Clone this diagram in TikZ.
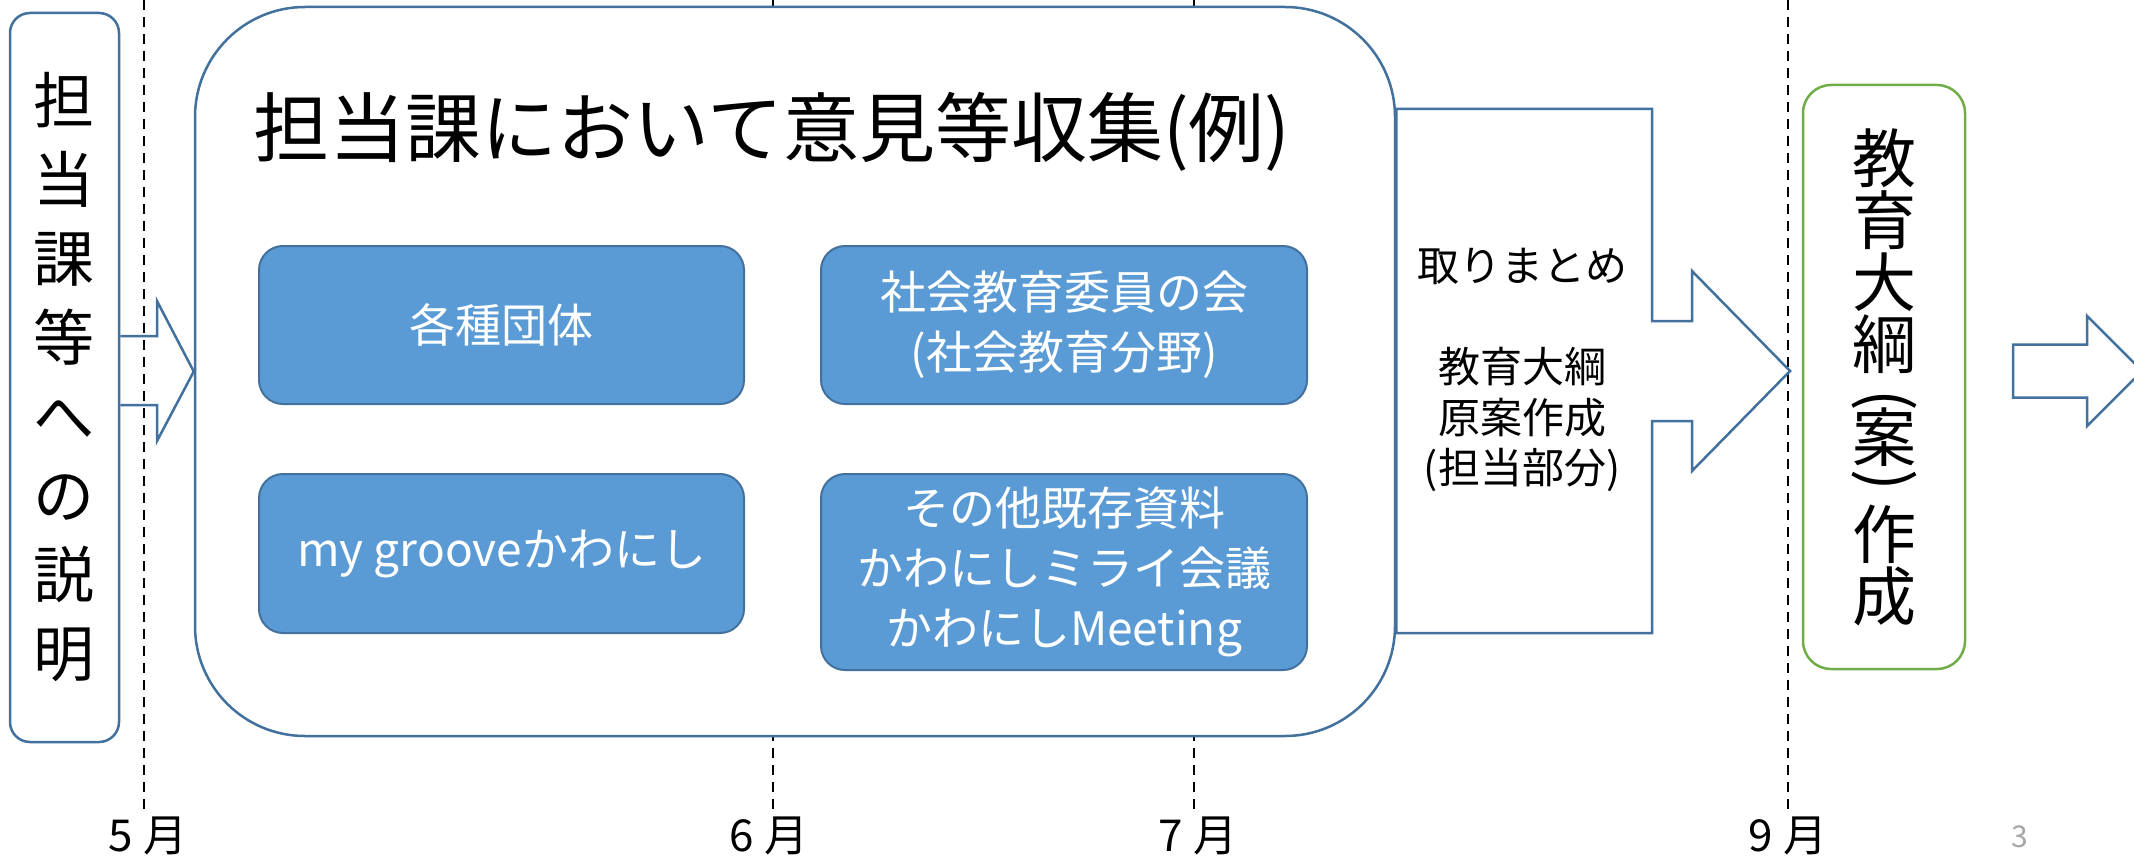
\documentclass[tikz,border=0pt]{standalone}
\usepackage{fontspec}
\setmainfont{Noto Sans CJK JP}
\usetikzlibrary{calc}
\definecolor{bord}{HTML}{41719C}
\definecolor{bfill}{HTML}{5B9BD5}
\definecolor{gbord}{HTML}{70AD47}
\newcommand{\vparen}[1]{\rotatebox[origin=c]{-90}{#1}}
\tikzset{
  monthline/.style={draw=black, line width=2.5pt, dash pattern=on 10pt off 7pt},
  introbox/.style={draw=bord, fill=white, line width=2.5pt, rounded corners=20pt, align=center, inner sep=0pt, font=\fontsize{61}{79}\selectfont},
  mainbox/.style={draw=bord, fill=white, line width=2.5pt, rounded corners=110pt, inner sep=0pt},
  bluebox/.style={draw=bord, fill=bfill, line width=2pt, rounded corners=24pt, align=center, inner sep=0pt, text=white, font=\fontsize{46}{60}\selectfont},
  greenbox/.style={draw=gbord, fill=white, line width=2.5pt, rounded corners=28pt, align=center, inner sep=0pt, font=\fontsize{64}{62}\selectfont},
  blockarrow/.style={draw=bord, line width=2.5pt, line join=miter},
  arrowtext/.style={align=center, inner sep=0pt, font=\fontsize{42}{50.5}\selectfont},
  monthlabel/.style={inner sep=0pt, font=\fontsize{44}{44}\selectfont},
}
\begin{document}
\begin{tikzpicture}[x=1pt, y=-1pt]
\useasboundingbox (0,0) rectangle (2134,864);
\fill[white] (0,0) rectangle (2134,864);
% month guide lines
\foreach \xx in {144,773,1194,1788} \draw[monthline] (\xx,0) -- (\xx,810);
\node[monthlabel] (m5) at (148,836) {5 月};
\node[monthlabel] (m6) at (769,836) {6 月};
\node[monthlabel] (m7) at (1198,836) {7 月};
\node[monthlabel] (m9) at (1788,836) {9 月};
\node[inner sep=0pt, font=\fontsize{30}{30}\selectfont, text=black!35] (pg) at (2020,837) {3};
% boxes
\node[introbox, minimum width=109pt, minimum height=729pt] (intro) at (64.5,377.5) {担\\当\\課\\等\\へ\\の\\説\\明};
\node[mainbox, minimum width=1200pt, minimum height=729pt] (main) at (795,371.5) {};
\node[inner sep=0pt, font=\fontsize{76}{76}\selectfont] (title) at (772,132) {担当課において意見等収集(例)};
\node[bluebox, minimum width=485pt, minimum height=158pt] (b1) at (501.5,325) {各種団体};
\node[bluebox, minimum width=485pt, minimum height=159pt] (b2) at (501.5,553.5) {my grooveかわにし};
\node[bluebox, minimum width=486pt, minimum height=158pt] (b3) at (1064,325) {社会教育委員の会\\(社会教育分野)};
\node[bluebox, minimum width=486pt, minimum height=196pt] (b4) at (1064,572) {その他既存資料\\かわにしミライ会議\\かわにしMeeting};
\node[greenbox, minimum width=162pt, minimum height=584pt] (draft) at (1884,377) {教\\育\\大\\綱\\[-10pt]\vparen{(}\\[-21pt]案\\[-23pt]\vparen{)}\\[-4pt]作\\成};
% small arrow
\draw[blockarrow] (intro.east |- 0,336) -- (157,336) -- (157,301) -- (main.west) -- (157,441) -- (157,405) -- (intro.east |- 0,405);
% big arrow
\coordinate (tip1) at (1790,371);
\draw[blockarrow, fill=white] (main.east |- 0,109) -- (1652,109) -- (1652,321) -- (1692,321) -- (1692,271) -- (tip1) -- (1692,471) -- (1692,421) -- (1652,421) -- (1652,633) -- (main.east |- 0,633) -- cycle;
\node[arrowtext] (summary) at (1522,370) {取りまとめ\\[50.5pt]教育大綱\\原案作成\\(担当部分)};
% right arrow
\coordinate (next) at (2013,371);
\draw[blockarrow] (next) ++(0,-26.5) -- ++(74,0) -- ++(0,-28.5) -- ++(55,55) -- ++(-55,55) -- ++(0,-28.5) -- ++(-74,0) -- cycle;
\end{tikzpicture}
\end{document}
